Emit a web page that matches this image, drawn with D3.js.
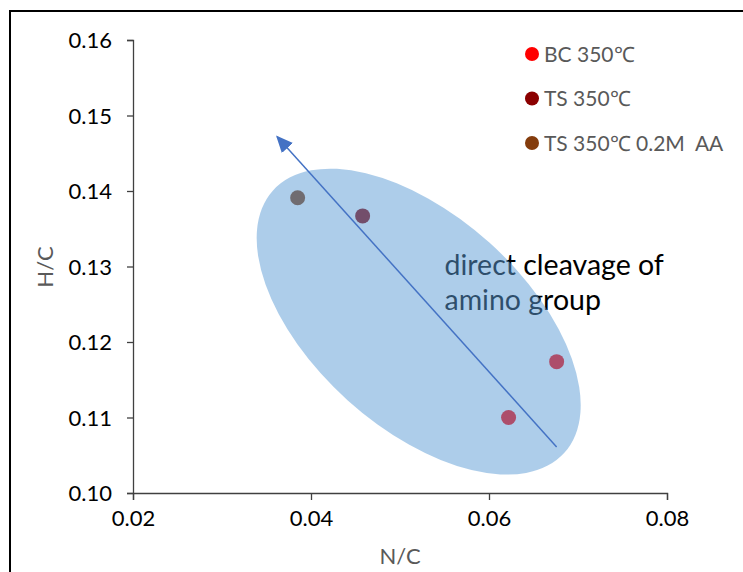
<!DOCTYPE html>
<html>
<head>
<meta charset="utf-8">
<script src="https://cdn.jsdelivr.net/npm/d3@7"></script>
<style>
  body { margin: 0; background: #fff; }
  text { font-family: Lato, "Open Sans", sans-serif; white-space: pre; }
</style>
</head>
<body>
<script>
const WIDTH = 743;
const HEIGHT = 572;
const PLOT = { left: 133, right: 667, top: 40, bottom: 493 };

// series
const seriesNames = ['BC 350\u2103', 'TS 350\u2103', 'TS 350\u2103 0.2M  AA'];
const seriesColors = ['#ff0000', '#8b0000', '#843c0c'];
const bcPoints = [{x: 0.0676, y: 0.1174}, {x: 0.0622, y: 0.1100}];
const tsPoints = [{x: 0.0458, y: 0.1367}];
const tsAaPoints = [{x: 0.0385, y: 0.1391}];

const xTicks = [0.02, 0.04, 0.06, 0.08];
const yTicks = [0.10, 0.11, 0.12, 0.13, 0.14, 0.15, 0.16];

// annotation: shaded ellipse, arrow, note
const ellipseCenter = {x: 0.0521, y: 0.1227};
const arrowFrom = {x: 0.0676, y: 0.1061};
const arrowTo = {x: 0.0362, y: 0.1472};
const noteLines = ['direct cleavage of', 'amino group'];
const noteAt = {x: 0.0550, y: 0.1289};

var drawChart = function(){
	var svg = d3.select('body').append('svg')
		.attr('width', WIDTH)
		.attr('height', HEIGHT);

	// frame of the chart area (cropped on right/bottom)
	svg.append('path')
		.attr('d', 'M10,' + HEIGHT + ' L10,11 L' + WIDTH + ',11')
		.attr('fill', 'none')
		.attr('stroke', '#000')
		.attr('stroke-width', 2);

	var x = d3.scaleLinear().domain([0.02, 0.08]).range([PLOT.left, PLOT.right]);
	var y = d3.scaleLinear().domain([0.10, 0.16]).range([PLOT.bottom, PLOT.top]);

	var xAxis = svg.append('g')
		.attr('transform', 'translate(0,' + PLOT.bottom + ')')
		.call(d3.axisBottom(x).tickValues(xTicks).tickFormat(d3.format('.2f')).tickSizeOuter(0).tickSize(7).tickPadding(10));
	var yAxis = svg.append('g')
		.attr('transform', 'translate(' + PLOT.left + ',0)')
		.call(d3.axisLeft(y).tickValues(yTicks).tickFormat(d3.format('.2f')).tickSizeOuter(0).tickSize(6).tickPadding(15));

	[xAxis, yAxis].forEach(function(a){
		a.selectAll('path, line').attr('stroke', '#404040').attr('stroke-width', 1.3);
		a.selectAll('text').attr('fill', '#000').style('font-size', '22px');
	});
	yAxis.selectAll('text').attr('dy', '0.36em');

	svg.append('text')
		.attr('transform', 'translate(53,' + 267 + ') rotate(-90)')
		.attr('text-anchor', 'middle')
		.attr('fill', '#595959')
		.style('font-size', '22px')
		.text('H/C');
	svg.append('text')
		.attr('x', (PLOT.left + PLOT.right) / 2)
		.attr('y', 564)
		.attr('text-anchor', 'middle')
		.attr('fill', '#595959')
		.style('font-size', '22px')
		.text('N/C');

	// points
	var allSeries = [bcPoints, tsPoints, tsAaPoints];
	allSeries.forEach(function(pts, i){
		svg.append('g').selectAll('circle')
			.data(pts)
			.enter().append('circle')
			.attr('cx', function(d){ return x(d.x); })
			.attr('cy', function(d){ return y(d.y); })
			.attr('r', 7.5)
			.attr('fill', seriesColors[i]);
	});

	// note text (sits under the translucent ellipse)
	var note = svg.append('text')
		.attr('x', x(noteAt.x))
		.attr('y', y(noteAt.y))
		.attr('fill', '#000')
		.style('font-size', '28.5px');
	noteLines.forEach(function(t, i){
		note.append('tspan')
			.attr('x', x(noteAt.x))
			.attr('dy', i === 0 ? 0 : '1.22em')
			.text(t);
	});

	var cx = x(ellipseCenter.x), cy = y(ellipseCenter.y);
	svg.append('ellipse')
		.attr('cx', cx)
		.attr('cy', cy)
		.attr('rx', 196)
		.attr('ry', 106)
		.attr('transform', 'rotate(42,' + cx + ',' + cy + ')')
		.attr('fill', '#5b9bd5')
		.attr('fill-opacity', 0.5);

	// arrow
	svg.append('defs').append('marker')
		.attr('id', 'head')
		.attr('viewBox', '0 0 10 10')
		.attr('refX', 9)
		.attr('refY', 5)
		.attr('markerWidth', 17)
		.attr('markerHeight', 15)
		.attr('markerUnits', 'userSpaceOnUse')
		.attr('orient', 'auto')
		.attr('preserveAspectRatio', 'none')
		.append('path')
		.attr('d', 'M0,0 L10,5 L0,10 Z')
		.attr('fill', '#4472c4');
	svg.append('line')
		.attr('x1', x(arrowFrom.x))
		.attr('y1', y(arrowFrom.y))
		.attr('x2', x(arrowTo.x))
		.attr('y2', y(arrowTo.y))
		.attr('stroke', '#4472c4')
		.attr('stroke-width', 1.5)
		.attr('marker-end', 'url(#head)');

	// legend
	var legend = svg.append('g').attr('transform', 'translate(532,54)');
	seriesNames.forEach(function(name, i){
		var row = legend.append('g').attr('transform', 'translate(0,' + (i * 44.5) + ')');
		row.append('circle').attr('r', 7).attr('fill', seriesColors[i]);
		row.append('text')
			.attr('x', 12)
			.attr('dy', '0.36em')
			.attr('fill', '#595959')
			.style('font-size', '21px')
			.text(name);
	});
}

window.onload = function(){
	drawChart();
}
</script>
</body>
</html>
